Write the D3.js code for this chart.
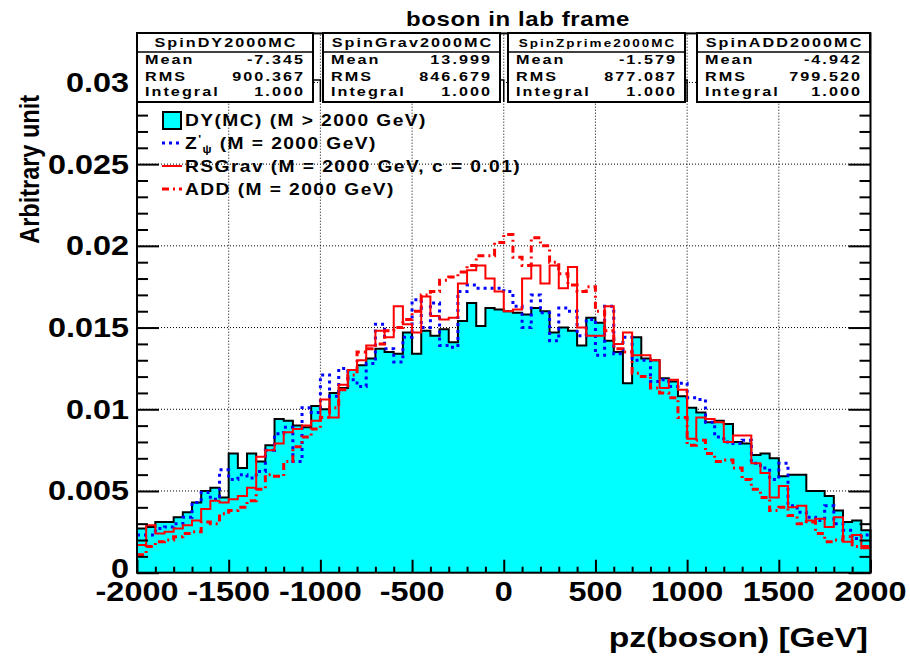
<!DOCTYPE html>
<html><head><meta charset="utf-8">
<script src="https://cdn.jsdelivr.net/npm/d3@7"></script>
<style>body{margin:0;background:#fff} svg{display:block}</style>
</head><body>
<svg id="c" width="910" height="657"></svg>
<script>
// pz(boson) histograms, 80 bins of 50 GeV from -2000 to 2000
const binLow = -2000, binWidth = 50;

const dy = [0.0027,0.0028,0.0031,0.0031,0.0034,0.0037,0.0043,0.0050,0.0052,0.0046,
 0.0073,0.0064,0.0073,0.0068,0.0078,0.0094,0.0093,0.0090,0.0089,0.0102,
 0.0100,0.0110,0.0113,0.0124,0.0127,0.0131,0.0137,0.0135,0.0134,0.0147,
 0.0134,0.0148,0.0145,0.0149,0.0141,0.0154,0.0165,0.0151,0.0162,0.0161,
 0.0160,0.0159,0.0158,0.0162,0.0160,0.0147,0.0150,0.0148,0.0139,0.0156,
 0.0153,0.0142,0.0135,0.0116,0.0144,0.0131,0.0130,0.0119,0.0117,0.0108,
 0.0101,0.0098,0.0092,0.0093,0.0091,0.0080,0.0079,0.0072,0.0073,0.0070,
 0.0059,0.0060,0.0060,0.0050,0.0050,0.0047,0.0038,0.0031,0.0032,0.0026];

const zprime = [0.0023,0.0023,0.0027,0.0028,0.0030,0.0034,0.0043,0.0049,0.0045,0.0063,
 0.0057,0.0060,0.0058,0.0062,0.0075,0.0085,0.0089,0.0068,0.0101,0.0098,
 0.0121,0.0108,0.0125,0.0118,0.0114,0.0128,0.0152,0.0137,0.0129,0.0144,
 0.0167,0.0150,0.0165,0.0139,0.0138,0.0172,0.0176,0.0174,0.0174,0.0174,
 0.0172,0.0163,0.0150,0.0170,0.0159,0.0142,0.0162,0.0160,0.0145,0.0155,
 0.0133,0.0163,0.0134,0.0144,0.0130,0.0130,0.0117,0.0118,0.0114,0.0116,
 0.0107,0.0106,0.0092,0.0083,0.0080,0.0079,0.0081,0.0067,0.0064,0.0057,
 0.0067,0.0041,0.0037,0.0034,0.0032,0.0041,0.0030,0.0026,0.0021,0.0023];

const rsgrav = [0.0017,0.0029,0.0024,0.0025,0.0027,0.0029,0.0032,0.0039,0.0044,0.0043,
 0.0045,0.0047,0.0052,0.0071,0.0075,0.0079,0.0086,0.0088,0.0090,0.0093,
 0.0106,0.0095,0.0115,0.0124,0.0130,0.0139,0.0148,0.0144,0.0163,0.0152,
 0.0147,0.0169,0.0157,0.0155,0.0156,0.0177,0.0185,0.0188,0.0180,0.0172,
 0.0160,0.0161,0.0180,0.0188,0.0177,0.0188,0.0174,0.0187,0.0150,0.0145,
 0.0145,0.0163,0.0140,0.0147,0.0133,0.0133,0.0130,0.0113,0.0118,0.0112,
 0.0082,0.0095,0.0094,0.0092,0.0080,0.0084,0.0084,0.0067,0.0061,0.0046,
 0.0053,0.0040,0.0041,0.0032,0.0033,0.0028,0.0034,0.0019,0.0023,0.0015];

const add = [0.0011,0.0016,0.0019,0.0020,0.0022,0.0024,0.0025,0.0031,0.0030,0.0036,
 0.0038,0.0040,0.0044,0.0051,0.0060,0.0059,0.0068,0.0077,0.0083,0.0088,
 0.0095,0.0101,0.0112,0.0121,0.0135,0.0137,0.0140,0.0148,0.0150,0.0155,
 0.0160,0.0170,0.0172,0.0179,0.0181,0.0184,0.0188,0.0194,0.0194,0.0202,
 0.0207,0.0193,0.0188,0.0205,0.0200,0.0190,0.0183,0.0176,0.0172,0.0175,
 0.0160,0.0148,0.0137,0.0135,0.0122,0.0120,0.0113,0.0110,0.0107,0.0095,
 0.0078,0.0081,0.0073,0.0068,0.0069,0.0064,0.0057,0.0051,0.0046,0.0038,
 0.0040,0.0035,0.0030,0.0031,0.0024,0.0019,0.0020,0.0022,0.0016,0.0016];

const xTicks = [-2000,-1500,-1000,-500,0,500,1000,1500,2000];
const xTickLabels = ["-2000","-1500","-1000","-500","0","500","1000","1500","2000"];
const yTicks = [0,0.005,0.01,0.015,0.02,0.025,0.03];
const yTickLabels = ["0","0.005","0.01","0.015","0.02","0.025","0.03"];

const statNames = ["SpinDY2000MC","SpinGrav2000MC","SpinZprime2000MC","SpinADD2000MC"];
const statMean = ["-7.345","13.999","-1.579","-4.942"];
const statRMS = ["900.367","846.679","877.087","799.520"];
const statIntegral = ["1.000","1.000","1.000","1.000"];

const legendLabels = ["DY(MC) (M > 2000 GeV)", "Z", "RSGrav (M = 2000 GeV, c = 0.01)", "ADD (M = 2000 GeV)"];

const FONT = "'Liberation Sans', Arial, Helvetica, sans-serif";
const SX = 1.2; // horizontal stretch of the text

const svg = d3.select("#c");
const L = 137, R = 870.5, B = 572.7, T = 33.4;
const x = d3.scaleLinear().domain([-2000, 2000]).range([L, R]);
const y = d3.scaleLinear().domain([0, 0.033]).range([B, T]);

function txt(g, str, px, py, o) {
  o = o || {};
  const t = g.append("text")
    .attr("transform", `translate(${px},${py}) scale(${o.sx || SX},1)` + (o.rot ? ` rotate(${o.rot})` : ""))
    .attr("text-anchor", o.anchor || "start")
    .style("font-family", FONT)
    .style("font-weight", "bold")
    .style("font-size", (o.size || 12) + "px")
    .style("fill", "#000");
  if (o.ls) t.style("letter-spacing", o.ls + "px");
  if (str !== null) t.text(str);
  return t;
}

// grid
const grid = svg.append("g");
grid.selectAll("line.gx").data(xTicks.slice(1, -1)).join("line")
  .attr("x1", d => x(d)).attr("x2", d => x(d)).attr("y1", B).attr("y2", T)
  .attr("stroke", "#000").attr("stroke-width", 1).attr("stroke-dasharray", "1,2");
grid.selectAll("line.gy").data(yTicks.slice(1)).join("line")
  .attr("x1", L).attr("x2", R).attr("y1", d => y(d)).attr("y2", d => y(d))
  .attr("stroke", "#000").attr("stroke-width", 1).attr("stroke-dasharray", "1,2");

function stepPath(vals, closed) {
  const p = d3.path();
  const e = i => x(binLow + i * binWidth);
  if (closed) { p.moveTo(e(0), y(0)); p.lineTo(e(0), y(vals[0])); }
  else p.moveTo(e(0), y(vals[0]));
  vals.forEach((v, i) => { if (i > 0) p.lineTo(e(i), y(v)); p.lineTo(e(i + 1), y(v)); });
  if (closed) p.lineTo(e(vals.length), y(0));
  return p.toString();
}

const hg = svg.append("g");
hg.append("path").attr("d", stepPath(dy, true))
  .attr("fill", "#00ffff").attr("stroke", "#000").attr("stroke-width", 2);
hg.append("path").attr("d", stepPath(zprime, false))
  .attr("fill", "none").attr("stroke", "#0000ff").attr("stroke-width", 3).attr("stroke-dasharray", "3,4");
hg.append("path").attr("d", stepPath(rsgrav, false))
  .attr("fill", "none").attr("stroke", "#ff0000").attr("stroke-width", 2);
hg.append("path").attr("d", stepPath(add, false))
  .attr("fill", "none").attr("stroke", "#ff0000").attr("stroke-width", 3).attr("stroke-dasharray", "7,4,2,4");

// axes: ticks drawn inward on all visible sides
const xMinor = d3.range(-1900, 2000, 100).filter(v => v % 500 !== 0);
const yMinor = d3.range(1, 33).map(i => i * 0.001).filter(v => Math.abs(v / 0.005 - Math.round(v / 0.005)) > 1e-6);

function tickAxis(axisFn, scale, vals, size, tr) {
  const g = svg.append("g").attr("transform", tr)
    .call(axisFn(scale).tickValues(vals).tickSize(size).tickFormat(""));
  g.select(".domain").remove();
  g.selectAll(".tick line").attr("stroke", "#000").attr("stroke-width", 2);
  return g;
}
tickAxis(d3.axisBottom, x, xTicks, -13, `translate(0,${B})`);
tickAxis(d3.axisBottom, x, xMinor, -6, `translate(0,${B})`);
tickAxis(d3.axisLeft, y, yTicks, -22, `translate(${L},0)`);
tickAxis(d3.axisLeft, y, yMinor, -11, `translate(${L},0)`);
tickAxis(d3.axisRight, y, yTicks, -22, `translate(${R},0)`);
tickAxis(d3.axisRight, y, yMinor, -11, `translate(${R},0)`);

svg.append("rect").attr("x", L).attr("y", T).attr("width", R - L).attr("height", B - T)
  .attr("fill", "none").attr("stroke", "#000").attr("stroke-width", 2);

// tick labels
const labs = svg.append("g");
xTicks.forEach((v, i) => txt(labs, xTickLabels[i], x(v), 601, { size: 27, anchor: "middle" }));
yTicks.forEach((v, i) => txt(labs, yTickLabels[i], 129, y(v) + (v === 0 ? 5 : 9.5), { size: 27, anchor: "end" }));

// axis titles
txt(svg, "pz(boson) [GeV]", 868, 647, { size: 28, anchor: "end" });
txt(svg, "Arbitrary unit", 39, 95, { size: 23.5, anchor: "end", rot: -90 });

// title
txt(svg, "boson in lab frame", 518, 26, { size: 20, anchor: "middle", ls: 0.5 });

// legend
const lg = svg.append("g");
const rowY = [120, 143, 166, 189];
lg.append("rect").attr("x", 163).attr("y", rowY[0] - 8).attr("width", 18).attr("height", 17)
  .attr("fill", "#00ffff").attr("stroke", "#000").attr("stroke-width", 2);
lg.append("line").attr("x1", 162).attr("x2", 182).attr("y1", rowY[1]).attr("y2", rowY[1])
  .attr("stroke", "#0000ff").attr("stroke-width", 3).attr("stroke-dasharray", "3,4");
lg.append("line").attr("x1", 162).attr("x2", 182).attr("y1", rowY[2]).attr("y2", rowY[2])
  .attr("stroke", "#ff0000").attr("stroke-width", 2);
lg.append("line").attr("x1", 162).attr("x2", 182).attr("y1", rowY[3]).attr("y2", rowY[3])
  .attr("stroke", "#ff0000").attr("stroke-width", 3).attr("stroke-dasharray", "7,4,2,4");
const lo = { size: 16, ls: 1.2 };
txt(lg, legendLabels[0], 185, rowY[0] + 6, lo);
const zt = txt(lg, null, 185, rowY[1] + 6, lo);
zt.append("tspan").text(legendLabels[1]);
zt.append("tspan").attr("dy", -6).style("font-size", "10px").text("'");
zt.append("tspan").attr("dy", 10).style("font-size", "10px").text("\u03c8");
zt.append("tspan").attr("dy", -4).text(" (M = 2000 GeV)");
txt(lg, legendLabels[2], 185, rowY[2] + 6, lo);
txt(lg, legendLabels[3], 185, rowY[3] + 6, lo);

// statistics boxes
const boxX = [[137, 313], [323, 500], [508, 685], [697, 870]];
const sb = svg.append("g");
boxX.forEach(([x0, x1], i) => {
  if (i > 0) {
    const gxv = x(xTicks[2 * i]);
    sb.append("path").attr("d", `M${boxX[i - 1][1]},80H${gxv}V102`)
      .attr("fill", "none").attr("stroke", "#000").attr("stroke-width", 1.5);
  }
  sb.append("rect").attr("x", x0).attr("y", 33).attr("width", x1 - x0).attr("height", 69)
    .attr("fill", "#fff").attr("stroke", "#000").attr("stroke-width", 2);
  sb.append("line").attr("x1", x0).attr("x2", x1).attr("y1", 52).attr("y2", 52)
    .attr("stroke", "#000").attr("stroke-width", 1.5);
  const hs = statNames[i].length > 14 ? 10 : 12;
  txt(sb, statNames[i], (x0 + x1) / 2 + 1, 47, { size: hs, anchor: "middle", ls: 1.5, sx: 1.35 });
  const so = { size: 12, ls: 1.5, sx: 1.35 };
  txt(sb, "Mean", x0 + 8, 64, so);
  txt(sb, "RMS", x0 + 8, 81, so);
  txt(sb, "Integral", x0 + 8, 96, so);
  const ro = { size: 12, ls: 1.5, sx: 1.35, anchor: "end" };
  txt(sb, statMean[i], x1 - 8, 64, ro);
  txt(sb, statRMS[i], x1 - 8, 81, ro);
  txt(sb, statIntegral[i], x1 - 8, 96, ro);
});
</script>
</body></html>
